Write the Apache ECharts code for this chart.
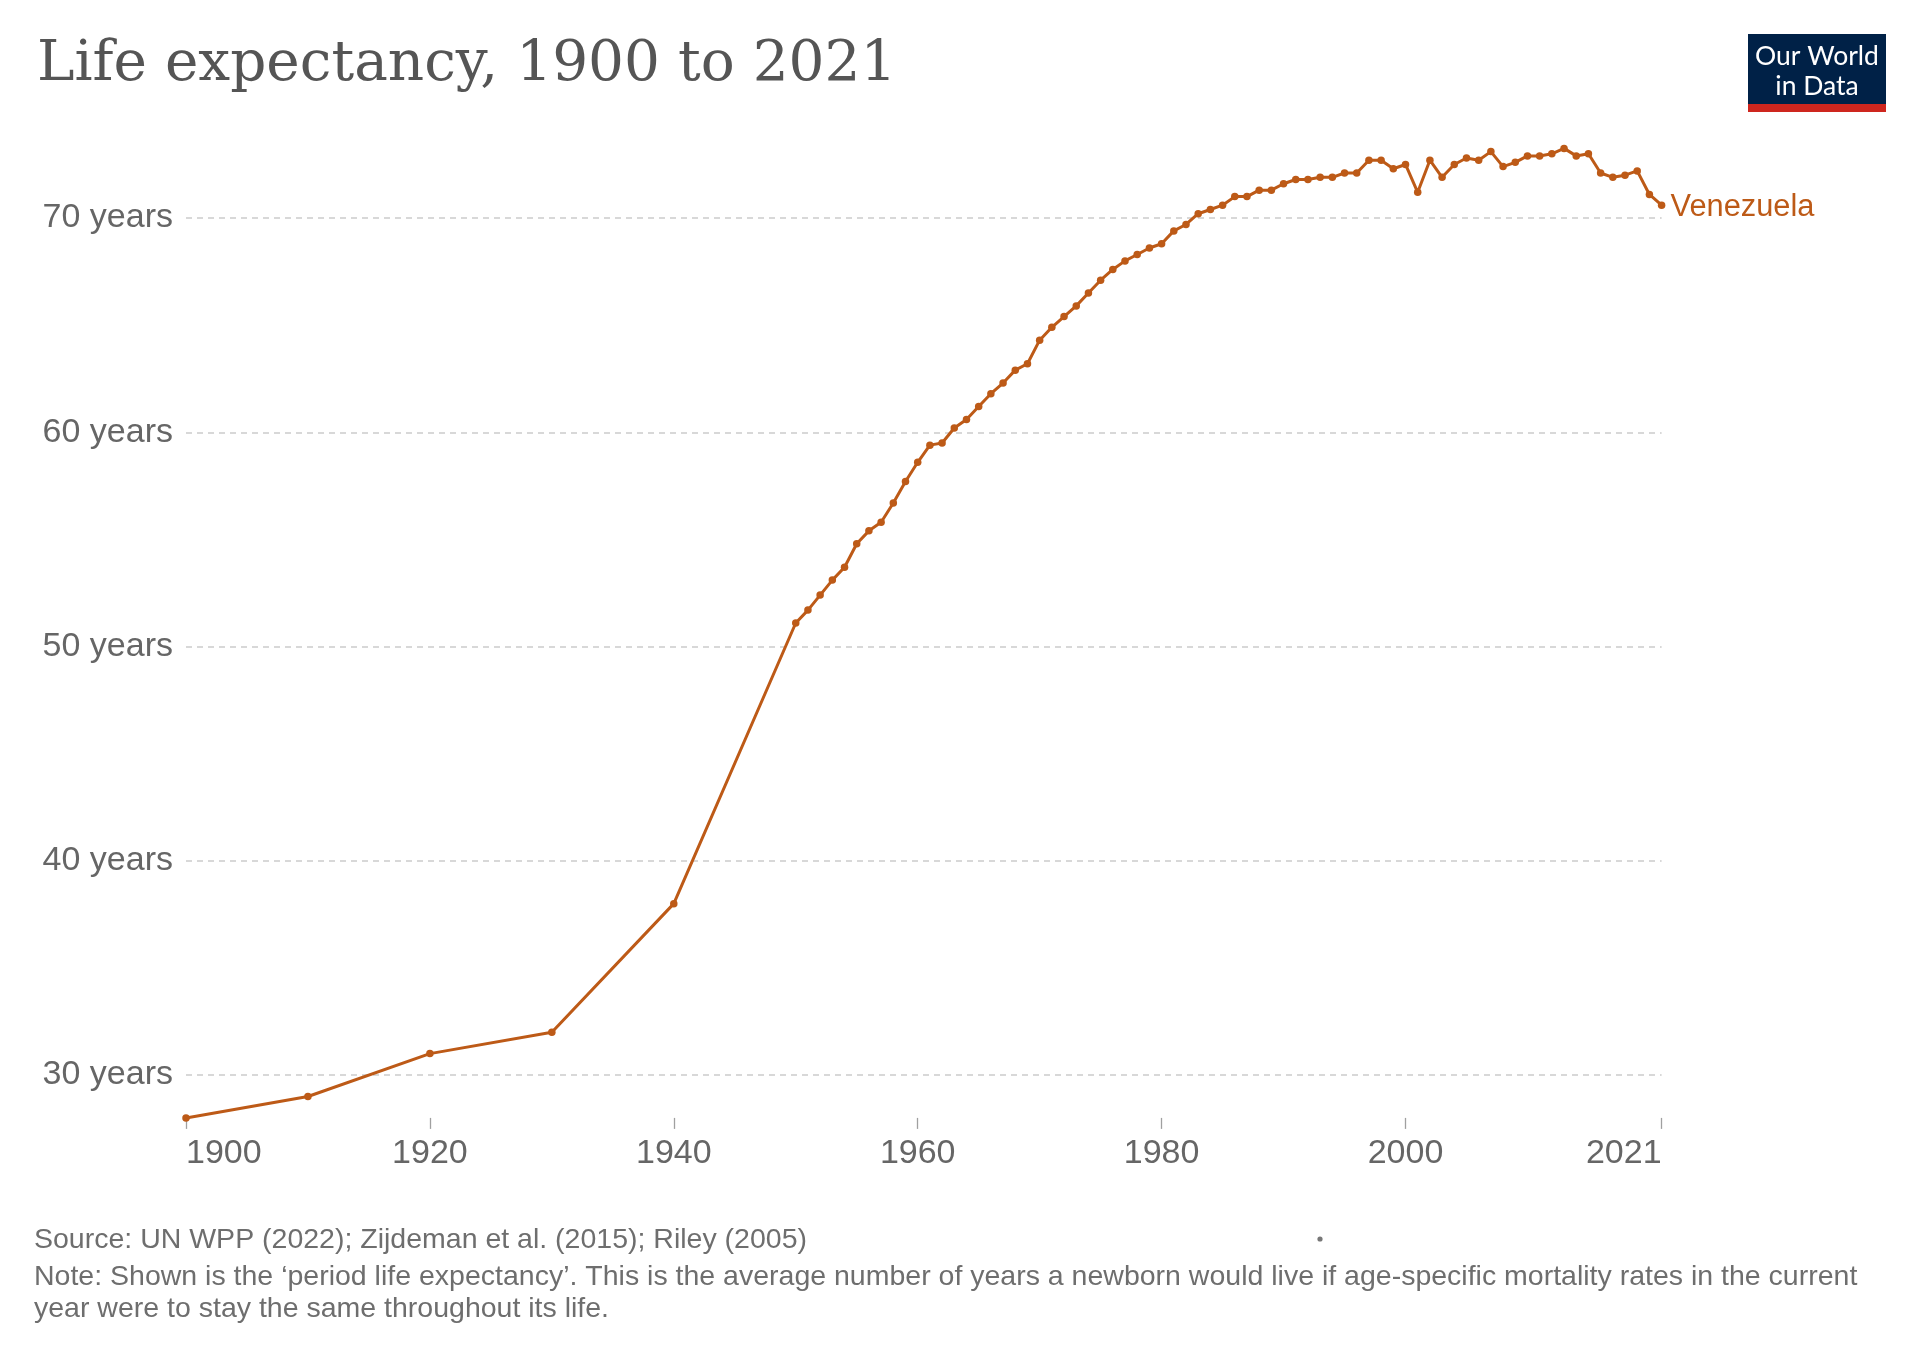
<!DOCTYPE html>
<html>
<head>
<meta charset="utf-8">
<script src="https://cdn.jsdelivr.net/npm/echarts@6/dist/echarts.min.js"></script>
<style>
html,body{margin:0;padding:0;background:#fff;}
#chart{width:1920px;height:1355px;}
</style>
</head>
<body>
<div id="chart"></div>
<script>
// ---- Data ----
const years = [1900, 1910, 1920, 1930, 1940,
  1950, 1951, 1952, 1953, 1954, 1955, 1956, 1957, 1958, 1959,
  1960, 1961, 1962, 1963, 1964, 1965, 1966, 1967, 1968, 1969,
  1970, 1971, 1972, 1973, 1974, 1975, 1976, 1977, 1978, 1979,
  1980, 1981, 1982, 1983, 1984, 1985, 1986, 1987, 1988, 1989,
  1990, 1991, 1992, 1993, 1994, 1995, 1996, 1997, 1998, 1999,
  2000, 2001, 2002, 2003, 2004, 2005, 2006, 2007, 2008, 2009,
  2010, 2011, 2012, 2013, 2014, 2015, 2016, 2017, 2018, 2019,
  2020, 2021];
const venezuela = [28.0, 29.0, 31.0, 32.0, 38.0,
  51.1, 51.7, 52.4, 53.1, 53.7, 54.8, 55.4, 55.8, 56.7, 57.7,
  58.6, 59.4, 59.5, 60.2, 60.6, 61.2, 61.8, 62.3, 62.9, 63.2,
  64.3, 64.9, 65.4, 65.9, 66.5, 67.1, 67.6, 68.0, 68.3, 68.6,
  68.8, 69.4, 69.7, 70.2, 70.4, 70.6, 71.0, 71.0, 71.3, 71.3,
  71.6, 71.8, 71.8, 71.9, 71.9, 72.1, 72.1, 72.7, 72.7, 72.3,
  72.5, 71.2, 72.7, 71.9, 72.5, 72.8, 72.7, 73.1, 72.4, 72.6,
  72.9, 72.9, 73.0, 73.25, 72.9, 73.0, 72.1, 71.9, 72.0, 72.2,
  71.1, 70.6];
const xTickYears = [1900, 1920, 1940, 1960, 1980, 2000, 2021];
const seriesName = 'Venezuela';
const titleText = 'Life expectancy, 1900 to 2021';
const sourceText = 'Source: UN WPP (2022); Zijdeman et al. (2015); Riley (2005)';
const noteLine1 = 'Note: Shown is the \u2018period life expectancy\u2019. This is the average number of years a newborn would live if age-specific mortality rates in the current';
const noteLine2 = 'year were to stay the same throughout its life.';

const lineColor = '#bd5a17';
const sans = '"Liberation Sans", Arial, sans-serif';

const chart = echarts.init(document.getElementById('chart'), null, {renderer: 'canvas'});
const option = {
  animation: false,
  backgroundColor: '#ffffff',
  grid: {left: 186, right: 258.4, top: 148.4, bottom: 237.1, containLabel: false},
  xAxis: {
    type: 'value',
    min: 1900,
    max: 2021,
    axisLine: {show: false},
    splitLine: {show: false},
    axisTick: {show: true, customValues: xTickYears, length: 11, lineStyle: {color: '#a0a0a0', width: 1.3}},
    axisLabel: {
      customValues: xTickYears,
      fontSize: 34, color: '#666666', fontFamily: sans, margin: 19,
      alignMinLabel: 'left', alignMaxLabel: 'right',
      formatter: v => String(v)
    }
  },
  yAxis: {
    type: 'value',
    min: 28,
    max: 73.25,
    minInterval: 10,
    maxInterval: 10,
    axisLine: {show: false},
    axisTick: {show: false},
    splitLine: {show: true, showMinLine: false, showMaxLine: false,
      lineStyle: {color: '#d8d8d8', type: [6, 5], width: 1.8}},
    axisLabel: {
      fontSize: 34, color: '#666666', fontFamily: sans, margin: 13,
      padding: [5, 0, 0, 0],
      showMinLabel: false, showMaxLabel: false,
      formatter: v => v + ' years'
    }
  },
  series: [{
    name: seriesName,
    type: 'line',
    data: years.map((y, i) => [y, venezuela[i]]),
    symbol: 'circle',
    symbolSize: 7.5,
    showAllSymbol: true,
    lineStyle: {color: lineColor, width: 3},
    itemStyle: {color: lineColor},
    endLabel: {
      show: true, formatter: seriesName, color: lineColor,
      fontSize: 30.8, fontFamily: sans, distance: 9, offset: [0, 2]
    },
    z: 3
  }],
  graphic: [
    {type: 'text', left: 37, top: 37,
      style: {text: titleText, fontFamily: '"DejaVu Serif", serif', fontSize: 56.5, fill: '#555555'}},
    {type: 'rect', shape: {x: 1748, y: 34, width: 138, height: 71}, style: {fill: '#002147'}},
    {type: 'rect', shape: {x: 1748, y: 104, width: 138, height: 8}, style: {fill: '#ce261e'}},
    {type: 'text', x: 1817, y: 56,
      style: {text: 'Our World', fontFamily: 'Lato, sans-serif', fontSize: 26.5, fill: '#ffffff', align: 'center', verticalAlign: 'middle'}},
    {type: 'text', x: 1817, y: 86,
      style: {text: 'in Data', fontFamily: 'Lato, sans-serif', fontSize: 26.5, fill: '#ffffff', align: 'center', verticalAlign: 'middle'}},
    {type: 'text', x: 34, y: 1240,
      style: {text: sourceText, fontFamily: sans, fontSize: 28.5, fill: '#6e6e6e', verticalAlign: 'middle'}},
    {type: 'text', x: 34, y: 1277,
      style: {text: noteLine1, fontFamily: sans, fontSize: 28.5, fill: '#6e6e6e', verticalAlign: 'middle'}},
    {type: 'text', x: 34, y: 1309,
      style: {text: noteLine2, fontFamily: sans, fontSize: 28.5, fill: '#6e6e6e', verticalAlign: 'middle'}},
    {type: 'circle', shape: {cx: 1320, cy: 1239, r: 2.6}, style: {fill: '#777777'}}
  ]
};
chart.setOption(option);
</script>
</body>
</html>
